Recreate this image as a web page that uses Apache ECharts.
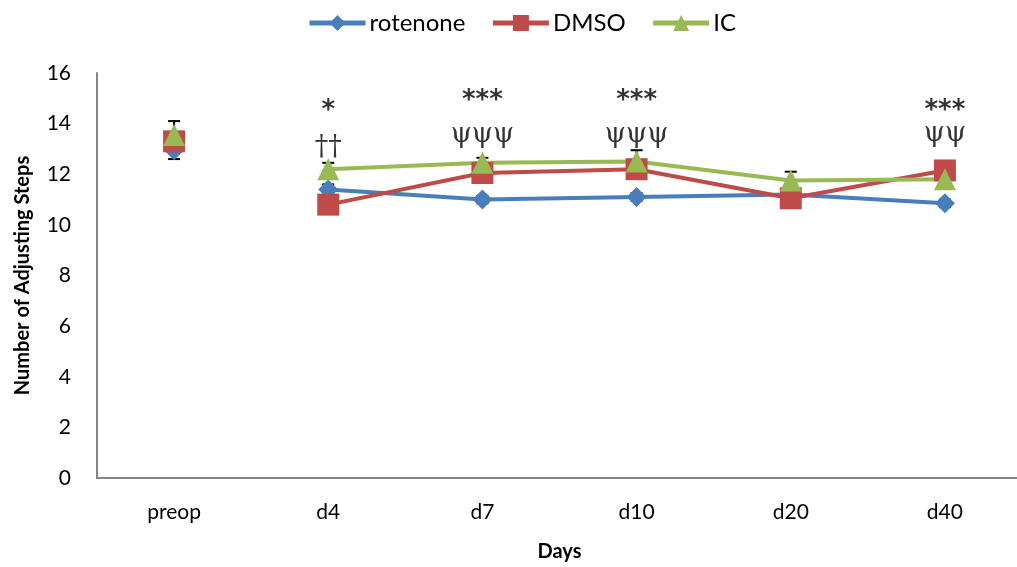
<!DOCTYPE html>
<html>
<head>
<meta charset="utf-8">
<script src="https://cdn.jsdelivr.net/npm/echarts@6/dist/echarts.min.js"></script>
<style>
  html, body { margin: 0; padding: 0; background: #fff; }
  #chart { width: 1017px; height: 567px; }
</style>
</head>
<body>
<div id="chart"></div>
<script>
var days = ["preop", "d4", "d7", "d10", "d20", "d40"];

var rotenone = [12.95, 11.4, 11.0, 11.1, 11.2, 10.85];
var dmso = [13.3, 10.8, 12.05, 12.2, 11.05, 12.15];
var ic = [13.55, 12.2, 12.45, 12.5, 11.75, 11.8];

var rotenoneErr = [0.35, 0.2, 0.15, 0.15, 0.15, 0.15];
var dmsoErr = [0.3, 0.2, 0.2, 0.2, 0.2, 0.2];
var icErr = [0.55, 0.25, 0.2, 0.45, 0.35, 0.25];

// significance marks: [category, height, text, kind]
var marks = [
  ["d4", 14.5, "*", "star"],
  ["d4", 13.05, "\u2020\u2020", "sym"],
  ["d7", 14.9, "***", "star"],
  ["d7", 13.55, "\u03c8\u03c8\u03c8", "sym"],
  ["d10", 14.9, "***", "star"],
  ["d10", 13.55, "\u03c8\u03c8\u03c8", "sym"],
  ["d40", 14.5, "***", "star"],
  ["d40", 13.6, "\u03c8\u03c8", "sym"]
];

var colors = { rotenone: "#4A7EBB", dmso: "#BE4B48", ic: "#98B954" };

// preop point is not joined to the rest of the line
function lineData(arr) {
  return arr.map(function (v, i) { return i === 0 ? "-" : v; });
}
function preopData(arr) {
  return arr.map(function (v, i) { return i === 0 ? v : "-"; });
}
function errData(vals, errs) {
  return vals.map(function (v, i) { return [i, v - errs[i], v + errs[i]]; });
}

function errorSeries(vals, errs) {
  return {
    type: "custom",
    z: 1,
    silent: true,
    renderItem: function (params, api) {
      var x = api.value(0);
      var lo = api.coord([x, api.value(1)]);
      var hi = api.coord([x, api.value(2)]);
      var w = 6;
      var style = { stroke: "#000", lineWidth: 2 };
      return {
        type: "group",
        children: [
          { type: "line", shape: { x1: hi[0], y1: hi[1], x2: lo[0], y2: lo[1] }, style: style },
          { type: "line", shape: { x1: hi[0] - w, y1: hi[1], x2: hi[0] + w, y2: hi[1] }, style: style },
          { type: "line", shape: { x1: lo[0] - w, y1: lo[1], x2: lo[0] + w, y2: lo[1] }, style: style }
        ]
      };
    },
    data: errData(vals, errs)
  };
}

var groups = [
  { name: "rotenone", vals: rotenone, err: rotenoneErr, color: colors.rotenone, symbol: "diamond", size: 20 },
  { name: "DMSO", vals: dmso, err: dmsoErr, color: colors.dmso, symbol: "rect", size: 22 },
  { name: "IC", vals: ic, err: icErr, color: colors.ic, symbol: "triangle", size: 22 }
];

var series = [];
groups.forEach(function (g) {
  series.push(errorSeries(g.vals, g.err));
});
groups.forEach(function (g) {
  series.push({
    name: g.name,
    type: "line",
    z: 3,
    data: lineData(g.vals),
    symbol: g.symbol,
    symbolSize: g.size,
    showAllSymbol: true,
    connectNulls: false,
    lineStyle: { color: g.color, width: 4 },
    itemStyle: { color: g.color },
    emphasis: { disabled: true }
  });
  series.push({
    name: g.name,
    type: "line",
    z: 3,
    data: preopData(g.vals),
    symbol: g.symbol,
    symbolSize: g.size,
    showAllSymbol: true,
    lineStyle: { color: g.color, width: 4 },
    itemStyle: { color: g.color },
    emphasis: { disabled: true }
  });
});

series.push({
  type: "scatter",
  z: 5,
  symbol: "circle",
  symbolSize: 1,
  itemStyle: { color: "rgba(0,0,0,0)" },
  silent: true,
  data: marks.map(function (m) { return [m[0], m[1]]; }),
  label: {
    show: true,
    position: "inside",
    formatter: function (p) {
      var m = marks[p.dataIndex];
      return "{" + m[3] + "|" + m[2] + "}";
    },
    rich: {
      star: { fontFamily: "DejaVu Sans", fontSize: 26, fontWeight: "bold", color: "#000" },
      sym: { fontFamily: "DejaVu Serif", fontSize: 27, color: "#000" }
    }
  }
});

var chart = echarts.init(document.getElementById("chart"), null, { renderer: "canvas" });

var option = {
  animation: false,
  textStyle: { fontFamily: "Lato" },
  legend: {
    data: ["rotenone", "DMSO", "IC"],
    top: 6,
    left: 302,
    itemWidth: 56,
    itemHeight: 20,
    itemGap: 25,
    lineStyle: { width: 5 },
    textStyle: { fontSize: 24, color: "#000", fontFamily: "Lato", padding: [0, 0, 0, -1] }
  },
  grid: { left: 97, right: -5, top: 73, bottom: 89, outerBoundsMode: "none" },
  xAxis: {
    type: "category",
    data: days,
    boundaryGap: true,
    name: "Days",
    nameLocation: "middle",
    nameGap: 64,
    nameTextStyle: { fontSize: 20, fontWeight: "bold", color: "#000" },
    axisLine: { lineStyle: { color: "#868686", width: 2 } },
    axisTick: { show: false },
    axisLabel: { fontSize: 21, color: "#000", margin: 24 }
  },
  yAxis: {
    type: "value",
    min: 0,
    max: 16,
    interval: 2,
    name: "Number of Adjusting Steps",
    nameLocation: "middle",
    nameGap: 64,
    nameTextStyle: { fontSize: 20, fontWeight: "bold", color: "#000" },
    splitLine: { show: false },
    axisLine: { show: true, lineStyle: { color: "#868686", width: 2 } },
    axisTick: { show: false },
    axisLabel: { fontSize: 21, color: "#000", margin: 26 }
  },
  series: series
};

chart.setOption(option);
window.addEventListener("resize", chart.resize);
</script>
</body>
</html>
